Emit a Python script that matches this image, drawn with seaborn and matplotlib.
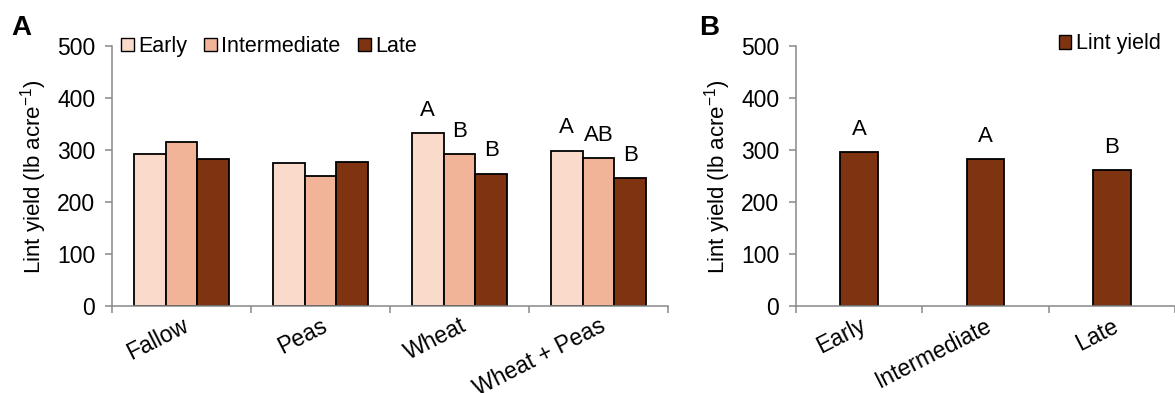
import matplotlib
matplotlib.use("Agg")
import matplotlib.pyplot as plt
from matplotlib.patches import Patch
import seaborn as sns
import pandas as pd

# ---- data ----
rotations = ["Fallow", "Peas", "Wheat", "Wheat + Peas"]
timings = ["Early", "Intermediate", "Late"]
early_vals = [292, 276, 333, 299]
inter_vals = [316, 251, 292, 285]
late_vals = [283, 278, 255, 246]
letters_early = ["", "", "A", "A"]
letters_inter = ["", "", "B", "AB"]
letters_late = ["", "", "B", "B"]

b_timings = ["Early", "Intermediate", "Late"]
b_vals = [296, 283, 262]
b_letters = ["A", "A", "B"]

colors = ["#FADBCB", "#F2B498", "#7E3311"]

sns.set_theme(style="white")
plt.rcParams["font.family"] = ["Liberation Sans", "DejaVu Sans"]
plt.rcParams["mathtext.default"] = "regular"
plt.rcParams["text.color"] = "black"
plt.rcParams["axes.labelcolor"] = "black"
plt.rcParams["xtick.color"] = "black"
plt.rcParams["ytick.color"] = "black"

fig = plt.figure(figsize=(11.75, 3.93), dpi=100)
axA = fig.add_axes([112/1175, 0.2214, (668-112)/1175, 0.8817-0.2214])
axB = fig.add_axes([796/1175, 0.2214, (1175-796)/1175, 0.8817-0.2214])

dfA = pd.DataFrame({
    "Rotation": rotations * 3,
    "Timing": [timings[0]]*4 + [timings[1]]*4 + [timings[2]]*4,
    "Yield": early_vals + inter_vals + late_vals,
})
sns.barplot(data=dfA, x="Rotation", y="Yield", hue="Timing", order=rotations,
            hue_order=timings, palette=colors, width=0.69, gap=0, saturation=1,
            edgecolor="black", linewidth=1.3, ax=axA, legend=False, errorbar=None)

dfB = pd.DataFrame({"Timing": b_timings, "Yield": b_vals})
sns.barplot(data=dfB, x="Timing", y="Yield", order=b_timings, color=colors[2],
            width=0.30, edgecolor="black", linewidth=1.3, ax=axB, errorbar=None,
            saturation=1)

# letters
all_letters = [letters_early, letters_inter, letters_late]
for cont, lets in zip(axA.containers, all_letters):
    for bar, lt in zip(cont, lets):
        if lt:
            axA.text(bar.get_x() + bar.get_width()/2, bar.get_height() + 44, lt,
                     ha="center", va="center", fontsize=16, color="black")
for bar, lt in zip(axB.containers[0], b_letters):
    axB.text(bar.get_x() + bar.get_width()/2, bar.get_height() + 44, lt,
             ha="center", va="center", fontsize=16, color="black")

for ax, cats in ((axA, rotations), (axB, b_timings)):
    n = len(cats)
    ax.set_xlim(-0.5, n - 0.5)
    ax.set_ylim(0, 500)
    ax.set_yticks([0, 100, 200, 300, 400, 500])
    ax.set_xticks([i - 0.5 for i in range(n + 1)])
    ax.set_xticklabels([""] * (n + 1))
    ax.set_xticks(list(range(n)), minor=True)
    ax.set_xticklabels(cats, minor=True, rotation=27, ha="right",
                       rotation_mode="anchor", fontsize=16.5, color="black")
    ax.tick_params(axis="x", which="minor", length=0, pad=6, labelcolor="black")
    ax.tick_params(axis="x", which="major", length=5, width=1.1, color="#898989",
                   direction="out", bottom=True)
    ax.tick_params(axis="y", length=5, width=1.1, color="#898989", direction="out",
                   left=True, labelsize=16.5, pad=7, labelcolor="black")
    for s in ("top", "right"):
        ax.spines[s].set_visible(False)
    for s in ("left", "bottom"):
        ax.spines[s].set_color("#898989")
        ax.spines[s].set_linewidth(1.1)
    ax.set_xlabel("")
    ax.set_ylabel("Lint yield (lb acre$^{-1}$)", fontsize=16, labelpad=6,
                  color="black")
    ax.grid(False)
    ax.set_facecolor("white")

# legends
handlesA = [Patch(facecolor=c, edgecolor="black", linewidth=1.0, label=t)
            for c, t in zip(colors, timings)]
axA.legend(handles=handlesA, loc="center left", bbox_to_anchor=(0.0, 1.0),
           ncol=3, frameon=False, fontsize=15.5, handlelength=0.6, handleheight=0.6,
           handletextpad=0.2, columnspacing=0.8, borderaxespad=0.0,
           labelcolor="black")
handlesB = [Patch(facecolor=colors[2], edgecolor="black", linewidth=1.0,
                  label="Lint yield")]
axB.legend(handles=handlesB, loc="center left", bbox_to_anchor=(0.67, 1.01),
           frameon=False, fontsize=15.5, handlelength=0.6, handleheight=0.6,
           handletextpad=0.2, borderaxespad=0.0, labelcolor="black")

fig.text(11/1175, (393-35)/393, "A", fontsize=20, fontweight="bold", va="baseline")
fig.text(699/1175, (393-35)/393, "B", fontsize=20, fontweight="bold", va="baseline")

fig.savefig("out.png", dpi=100, facecolor="white")
